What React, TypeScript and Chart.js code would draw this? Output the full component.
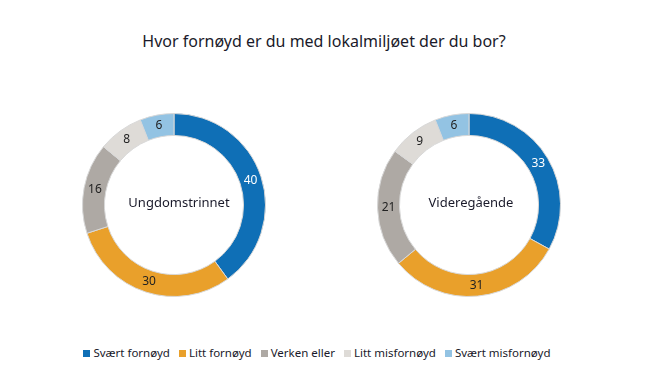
import React, { useEffect, useRef } from "react";
import { Chart, registerables } from "chart.js";

Chart.register(...registerables);

const title = "Hvor fornøyd er du med lokalmiljøet der du bor?";
const categories = ["Svært fornøyd", "Litt fornøyd", "Verken eller", "Litt misfornøyd", "Svært misfornøyd"];
const colors = ["#0F6FB6", "#E9A02B", "#AEA9A4", "#DEDBD7", "#93C3E3"];
const labelColors = ["#FFFFFF", "#222222", "#222222", "#222222", "#222222"];
const groupNames = ["Ungdomstrinnet", "Videregående"];
const ungdomValues = [40, 30, 16, 8, 6];
const vgsValues = [33, 31, 21, 9, 6];

const FONT = "'Noto Sans', 'DejaVu Sans', sans-serif";

const labelPlugin = {
  id: "ringLabels",
  afterDatasetsDraw(chart: any) {
    const ctx = chart.ctx;
    const meta = chart.getDatasetMeta(0);
    const ds = chart.data.datasets[0];
    ctx.save();
    ctx.font = `12px ${FONT}`;
    ctx.textAlign = "center";
    ctx.textBaseline = "middle";
    meta.data.forEach((arc: any, i: number) => {
      const p = arc.getCenterPoint();
      ctx.fillStyle = labelColors[i];
      ctx.fillText(String(ds.data[i]), p.x, p.y);
    });
    const first = meta.data[0];
    if (first) {
      const ct = chart.options.plugins.centerText;
      ctx.fillStyle = "#1A1A2A";
      ctx.font = `13px ${FONT}`;
      ctx.fillText(ct.text, first.x + ct.dx, first.y - 2);
    }
    ctx.restore();
  },
};

function Donut({ values, name, dx, left, top }: { values: number[]; name: string; dx: number; left: number; top: number }) {
  const ref = useRef<HTMLCanvasElement>(null);
  useEffect(() => {
    if (!ref.current) return;
    const chart = new Chart(ref.current, {
      type: "doughnut",
      data: {
        labels: categories,
        datasets: [
          {
            data: values,
            backgroundColor: colors,
            borderColor: "#D8D8D8",
            borderWidth: 1,
          },
        ],
      },
      options: {
        animation: false,
        responsive: false,
        cutout: "76%",
        layout: { padding: 0 },
        plugins: {
          legend: { display: false },
          tooltip: { enabled: false },
          centerText: { text: name, dx },
        } as any,
      },
      plugins: [labelPlugin],
    });
    return () => chart.destroy();
  }, [values, name, dx]);
  return (
    <canvas
      ref={ref}
      width={184}
      height={184}
      style={{ position: "absolute", left, top, width: 184, height: 184 }}
    />
  );
}

export default function App() {
  return (
    <div
      style={{
        position: "absolute",
        left: 0,
        top: 0,
        width: 648,
        height: 374,
        background: "#FFFFFF",
        fontFamily: FONT,
      }}
    >
      <div
        style={{
          position: "absolute",
          left: 0,
          top: 30,
          width: 648,
          textAlign: "center",
          fontSize: 16,
          color: "#1A1A2A",
          lineHeight: "22px",
        }}
      >
        {title}
      </div>
      <Donut values={ungdomValues} name={groupNames[0]} dx={5} left={82} top={113} />
      <Donut values={vgsValues} name={groupNames[1]} dx={2} left={377} top={113} />
      <div
        style={{
          position: "absolute",
          left: 0,
          top: 345,
          width: 634,
          display: "flex",
          justifyContent: "center",
          gap: 9,
          fontSize: 11.5,
          color: "#1A1A2A",
          lineHeight: "16px",
        }}
      >
        {categories.map((c, i) => (
          <div key={c} style={{ display: "flex", alignItems: "center" }}>
            <span
              style={{
                display: "inline-block",
                width: 7,
                height: 7,
                background: colors[i],
                marginRight: 3,
              }}
            />
            <span>{c}</span>
          </div>
        ))}
      </div>
    </div>
  );
}
